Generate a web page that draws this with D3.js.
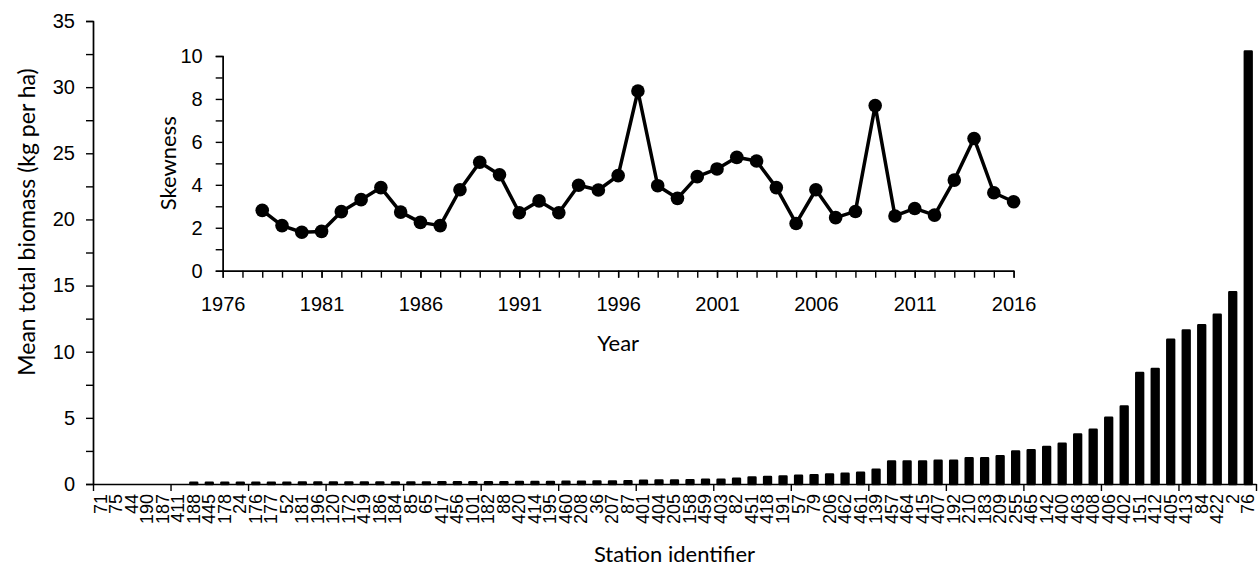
<!DOCTYPE html>
<html>
<head>
<meta charset="utf-8">
<script src="https://cdn.jsdelivr.net/npm/d3@7"></script>
<style>
    body { margin: 0; background: #fff; }
    svg { display: block; font-family: Lato, 'Liberation Sans', sans-serif; }
    .axis path, .axis line { stroke: #000; stroke-width: 1.4; }
    .axis text { fill: #000; }
</style>
</head>
<body>
<div id="chart"></div>
<script>
// station identifiers, in plotted order
const stations = ['71','75','44','190','187','411','188','445','178','24',
    '176','177','52','181','196','120','172','419','186','184',
    '85','65','417','456','101','182','88','420','414','195',
    '460','208','36','207','87','401','404','205','158','459',
    '403','82','451','418','191','57','79','206','462','461',
    '139','457','464','415','407','192','210','183','209','255',
    '465','142','400','463','408','406','402','151','412','405',
    '413','84','422','2','76'];

// mean total biomass (kg per ha) per station
const biomass = [0,0,0,0,0,0,0.1,0.1,0.1,0.1,
    0.1,0.1,0.1,0.11,0.11,0.11,0.11,0.12,0.12,0.12,
    0.12,0.12,0.13,0.13,0.13,0.14,0.14,0.15,0.15,0.16,
    0.17,0.17,0.18,0.19,0.2,0.24,0.26,0.27,0.28,0.32,
    0.33,0.39,0.5,0.52,0.57,0.62,0.67,0.72,0.77,0.85,
    1.07,1.7,1.7,1.7,1.75,1.75,1.95,1.95,2.1,2.45,
    2.55,2.8,3.05,3.75,4.1,5.0,5.85,8.4,8.7,10.9,
    11.6,12.0,12.8,14.5,32.7];

// inset series: skewness per year
const years = d3.range(1978, 2017);
const skewness = [2.81,2.10,1.79,1.83,2.75,3.31,3.87,2.73,2.25,2.10,
    3.77,5.05,4.47,2.70,3.25,2.70,3.98,3.76,4.43,8.37,
    3.96,3.37,4.38,4.74,5.28,5.11,3.87,2.20,3.77,2.47,
    2.76,7.69,2.55,2.90,2.59,4.22,6.16,3.63,3.21];

// tick labels
const biomassTicks = [0,5,10,15,20,25,30,35];
const biomassMinor = [2.5,7.5,12.5,17.5,22.5,27.5,32.5];
const skewTicks = [0,2,4,6,8,10];
const skewMinor = [1,3,5,7,9];
const yearTicks = [1976,1981,1986,1991,1996,2001,2006,2011,2016];

const width = 1260;
const height = 566;

const svg = d3.select('#chart')
    .append('svg')
    .attr('width', width)
    .attr('height', height);

/* MAIN BAR CHART */
const main = {l:93, r:1256, t:21, b:484};

const scaleX = d3.scaleBand()
    .domain(stations)
    .range([main.l, main.r]);

const scaleY = d3.scaleLinear()
    .domain([0, 35])
    .range([main.b, main.t]);

// category boundaries (tick every 5 stations)
const scaleIdx = d3.scaleLinear()
    .domain([0, stations.length])
    .range([main.l, main.r]);

const barW = 6.8;

svg.append('g')
    .classed('bars', true)
    .selectAll('rect')
    .data(stations.map((s, i) => ({station:s, value:biomass[i]})).filter(d => d.value > 0))
    .enter()
    .append('rect')
    .attr('x', d => scaleX(d.station) + scaleX.bandwidth()/2 - barW/2)
    .attr('y', d => scaleY(d.value))
    .attr('width', barW)
    .attr('height', d => scaleY(0) - scaleY(d.value))
    .style('fill', '#000')
    .style('stroke', '#000')
    .style('stroke-width', 2.5)
    .style('stroke-linejoin', 'round');

// y axis
svg.append('g')
    .attr('class', 'axis axis-y')
    .attr('transform', `translate(${main.l},0)`)
    .call(d3.axisLeft(scaleY).tickValues(biomassMinor).tickSize(7).tickFormat(''));

svg.append('g')
    .attr('class', 'axis axis-y')
    .attr('transform', `translate(${main.l},0)`)
    .call(d3.axisLeft(scaleY).tickValues(biomassTicks).tickSize(7).tickSizeOuter(0).tickPadding(11))
    .selectAll('text')
    .style('font-size', '20px');

// x axis: boundary ticks + station labels
svg.append('g')
    .attr('class', 'axis axis-x')
    .attr('transform', `translate(0,${main.b})`)
    .call(d3.axisBottom(scaleIdx).tickValues(d3.range(0, stations.length + 1, 5)).tickSize(7).tickSizeOuter(0).tickFormat(''));

svg.append('g')
    .attr('class', 'axis axis-x-labels')
    .attr('transform', `translate(0,${main.b})`)
    .call(d3.axisBottom(scaleX).tickSize(0).tickPadding(0))
    .call(g => g.select('.domain').remove())
    .selectAll('text')
    .style('font-size', '18px')
    .attr('text-anchor', 'end')
    .attr('transform', 'rotate(-90)')
    .attr('x', -10)
    .attr('y', 0)
    .attr('dy', '0.33em');

svg.append('text')
    .attr('x', (main.l + main.r)/2)
    .attr('y', 562)
    .attr('text-anchor', 'middle')
    .style('font-size', '22px')
    .text('Station identifier');

svg.append('text')
    .attr('transform', `translate(27,222) rotate(-90)`)
    .attr('text-anchor', 'middle')
    .attr('dy', '0.35em')
    .style('font-size', '23px')
    .text('Mean total biomass (kg per ha)');

/* INSET LINE CHART */
const inset = {l:222.7, r:1013.6, t:56, b:270.7};

const scaleYear = d3.scaleLinear()
    .domain([1976, 2016])
    .range([inset.l, inset.r]);

const scaleSkew = d3.scaleLinear()
    .domain([0, 10])
    .range([inset.b, inset.t]);

svg.append('g')
    .attr('class', 'axis inset-y')
    .attr('transform', `translate(${inset.l},0)`)
    .call(d3.axisLeft(scaleSkew).tickValues(skewMinor).tickSize(7).tickFormat(''));

svg.append('g')
    .attr('class', 'axis inset-y')
    .attr('transform', `translate(${inset.l},0)`)
    .call(d3.axisLeft(scaleSkew).tickValues(skewTicks).tickSize(7).tickSizeOuter(0).tickPadding(13))
    .selectAll('text')
    .style('font-size', '20px');

svg.append('g')
    .attr('class', 'axis inset-x')
    .attr('transform', `translate(0,${inset.b})`)
    .call(d3.axisBottom(scaleYear).tickValues(d3.range(1976, 2017)).tickSize(7).tickSizeOuter(0).tickFormat(''));

svg.append('g')
    .attr('class', 'axis inset-x')
    .attr('transform', `translate(0,${inset.b})`)
    .call(d3.axisBottom(scaleYear).tickValues(yearTicks).tickSize(7).tickSizeOuter(0).tickPadding(19).tickFormat(d3.format('d')))
    .selectAll('text')
    .style('font-size', '20px');

// straight segments between yearly points
const line = d3.line()
    .x(d => scaleYear(d.year))
    .y(d => scaleSkew(d.value));

const skewData = years.map((y, i) => ({year:y, value:skewness[i]}));

svg.append('path')
    .datum(skewData)
    .attr('d', line)
    .style('fill', 'none')
    .style('stroke', '#000')
    .style('stroke-width', 3.5)
    .style('stroke-linejoin', 'round');

svg.append('g')
    .selectAll('circle')
    .data(skewData)
    .enter()
    .append('circle')
    .attr('cx', d => scaleYear(d.year))
    .attr('cy', d => scaleSkew(d.value))
    .attr('r', 6.8)
    .style('fill', '#000');

svg.append('text')
    .attr('x', (inset.l + inset.r)/2)
    .attr('y', 343)
    .attr('text-anchor', 'middle')
    .attr('dy', '0.35em')
    .style('font-size', '22px')
    .text('Year');

svg.append('text')
    .attr('transform', `translate(168,${(inset.t + inset.b)/2}) rotate(-90)`)
    .attr('text-anchor', 'middle')
    .attr('dy', '0.35em')
    .style('font-size', '22px')
    .text('Skewness');
</script>
</body>
</html>
